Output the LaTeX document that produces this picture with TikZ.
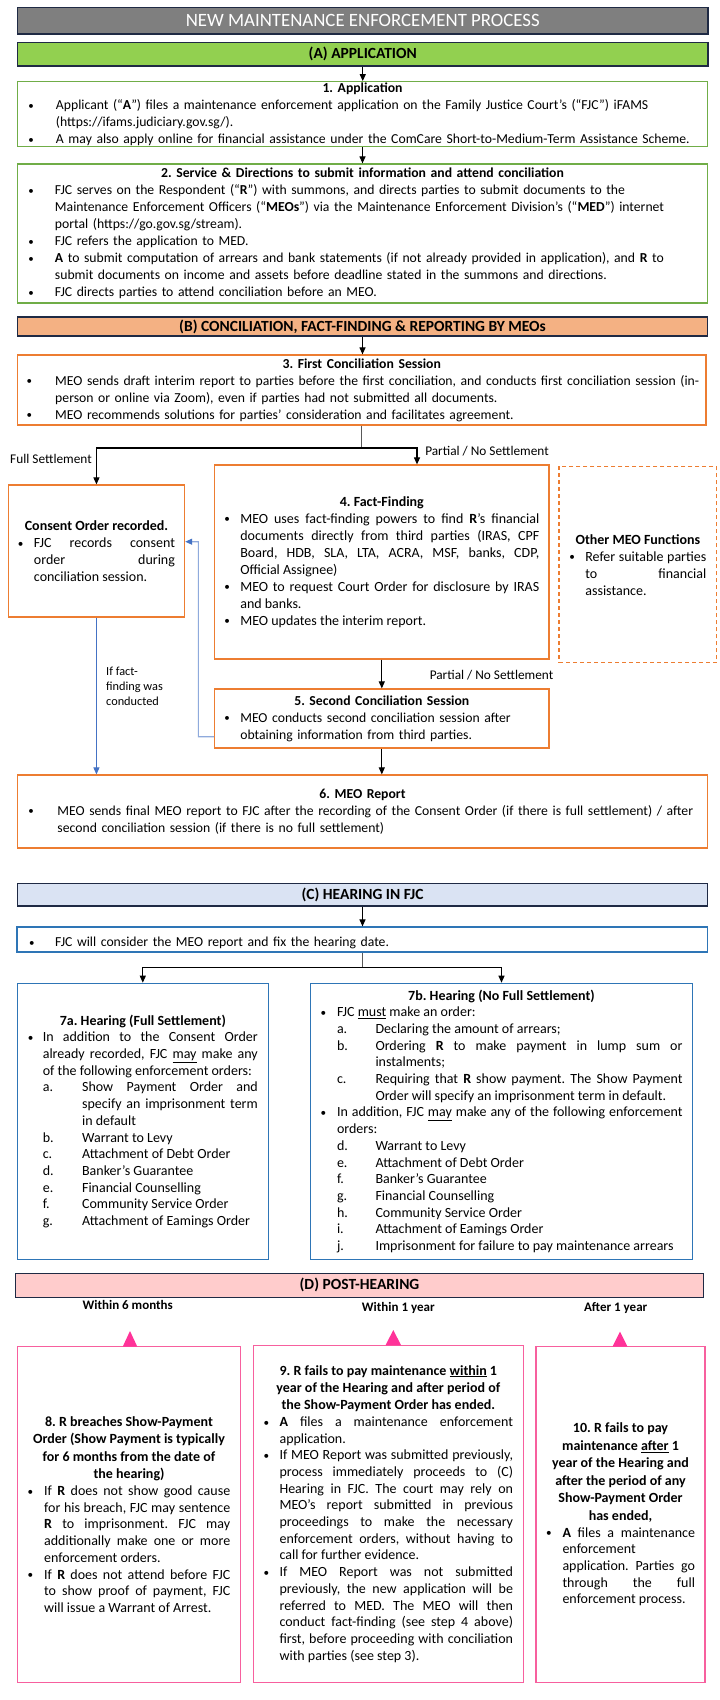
\documentclass[tikz,border=0pt]{standalone}
\usepackage{fontspec}
\setmainfont{Carlito}
\usepackage{graphicx}
\usetikzlibrary{arrows.meta,calc}
\definecolor{navy}{HTML}{1F2A44}
\definecolor{titlegray}{HTML}{7F7F7F}
\definecolor{agreen}{HTML}{92D050}
\definecolor{boxgreen}{HTML}{70AD47}
\definecolor{bpeach}{HTML}{F4B183}
\definecolor{boxorange}{HTML}{ED7D31}
\definecolor{clight}{HTML}{DAE3F3}
\definecolor{boxblue}{HTML}{2E75B6}
\definecolor{dpink}{HTML}{FFCCCC}
\definecolor{boxpink}{HTML}{F7609E}
\definecolor{tripink}{HTML}{FF3399}
\definecolor{linkblue}{HTML}{4472C4}
\definecolor{linkblue2}{HTML}{8FAADC}
\definecolor{stemgray}{HTML}{595959}
\frenchspacing
\newcommand{\bul}{\raisebox{0.3bp}{\scalebox{0.8}{\textbullet}}}
\newcommand{\oneline}[1]{\makebox[0pt][l]{#1}}
\newenvironment{blist}[1]{\begin{list}{\bul}{\setlength{\leftmargin}{#1}\setlength{\labelwidth}{#1}\setlength{\labelsep}{0pt}\setlength{\itemsep}{0pt}\setlength{\parsep}{0pt}\setlength{\topsep}{0pt}\setlength{\partopsep}{0pt}\setlength{\itemindent}{0pt}\setlength{\listparindent}{0pt}\setlength{\rightmargin}{0pt}\def\makelabel##1{##1\hfil}}}{\end{list}}
\begin{document}
\begin{tikzpicture}[x=1bp,y=-1bp,
 hdr/.style={draw=navy, line width=1.3bp, inner sep=0pt, font=\fontsize{15.5bp}{18bp}\selectfont\bfseries, text=black},
 gbox/.style={draw=boxgreen, line width=1.2bp, inner sep=0pt},
 obox/.style={draw=boxorange, line width=1.2bp, inner sep=0pt},
 bbox/.style={draw=boxblue, line width=1.2bp, inner sep=0pt},
 pbox/.style={draw=boxpink, line width=1.2bp, inner sep=0pt},
 body/.style={font=\fontsize{13.7bp}{17bp}\selectfont\frenchspacing},
 bodyj/.style={font=\fontsize{14bp}{17bp}\selectfont\frenchspacing},
 bodyb/.style={font=\fontsize{14bp}{16.7bp}\selectfont\frenchspacing},
 arr/.style={draw=black, line width=1.1bp, -{Triangle[length=7bp,width=6bp]}},
 stem/.style={draw=stemgray, line width=1.1bp},
 barr/.style={draw=linkblue, line width=1.1bp, -{Triangle[length=7bp,width=6bp]}},
 barr2/.style={draw=linkblue2, line width=1.1bp, -{Triangle[length=7bp,width=6bp,color=linkblue]}},
 lbl/.style={font=\fontsize{13.3bp}{15bp}\selectfont, inner sep=0pt},
 wl/.style={font=\fontsize{13bp}{15bp}\selectfont\bfseries, inner sep=0pt}]
\useasboundingbox (0,0) rectangle (720,1700);
\fill[white] (0,0) rectangle (720,1700);

% ---------- Title and (A)
\node[hdr, fill=titlegray, minimum width=690.5bp, minimum height=26.7bp, font=\fontsize{18.8bp}{21bp}\selectfont, text=white] (title) at (362.75,20.65) {NEW MAINTENANCE ENFORCEMENT PROCESS};
\node[hdr, fill=agreen, minimum width=690.5bp, minimum height=23.3bp] (A) at (362.75,54.35) {(A) APPLICATION};

\node[gbox, body, minimum width=690bp, minimum height=65bp, text width=668bp, align=left] (b1) at (362.5,114.2) {\parskip=0pt
{\centering\bfseries 1. Application\par}
\begin{blist}{27.5bp}
\item \oneline{Applicant (“\textbf{A}”) files a maintenance enforcement application on the Family Justice Court’s (“FJC”) iFAMS}\\\oneline{(https://ifams.judiciary.gov.sg/).}
\item \oneline{A may also apply online for financial assistance under the ComCare Short-to-Medium-Term Assistance Scheme.}
\end{blist}};

\node[gbox, body, minimum width=690bp, minimum height=139bp, text width=668bp, align=left] (b2) at (362.5,233.5) {\parskip=0pt
{\centering\bfseries 2. Service \& Directions to submit information and attend conciliation\par}
\begin{blist}{26.5bp}
\item \oneline{FJC serves on the Respondent (“\textbf{R}”) with summons, and directs parties to submit documents to the}\\\oneline{Maintenance Enforcement Officers (“\textbf{MEOs}”) via the Maintenance Enforcement Division’s (“\textbf{MED}”) internet}\\\oneline{portal (https://go.gov.sg/stream).}
\item \oneline{FJC refers the application to MED.}
\item \oneline{\textbf{A} to submit computation of arrears and bank statements (if not already provided in application), and \textbf{R} to}\\\oneline{submit documents on income and assets before deadline stated in the summons and directions.}
\item \oneline{FJC directs parties to attend conciliation before an MEO.}
\end{blist}};

% ---------- (B)
\node[hdr, fill=bpeach, minimum width=690bp, minimum height=19bp] (B) at (362.5,326.5) {(B) CONCILIATION, FACT-FINDING \& REPORTING BY MEOs};

\node[obox, body, minimum width=688.5bp, minimum height=70bp, text width=670bp, align=left] (b3) at (361.75,390) {\parskip=0pt
{\centering\bfseries 3. First Conciliation Session\par}
\begin{blist}{28.5bp}
\item \oneline{MEO sends draft interim report to parties before the first conciliation, and conducts first conciliation session (in-}\\\oneline{person or online via Zoom), even if parties had not submitted all documents.}
\item \oneline{MEO recommends solutions for parties’ consideration and facilitates agreement.}
\end{blist}};

\node[obox, bodyj, minimum width=176.3bp, minimum height=132bp, text width=157bp, align=justify] (consent) at (96.45,551) {\parskip=0pt
{\centering\bfseries Consent Order recorded.\par}
\begin{blist}{16bp}
\item FJC records consent \linebreak order during \linebreak conciliation session.
\end{blist}};

\node[obox, bodyj, minimum width=334.4bp, minimum height=194bp, text width=315bp, align=justify] (fact) at (381.8,562) {\parskip=0pt
{\centering\bfseries 4. Fact-Finding\par}
\begin{blist}{16bp}
\item MEO uses fact-finding powers to find \textbf{R}’s financial \linebreak documents directly from third parties (IRAS, CPF \linebreak Board, HDB, SLA, LTA, ACRA, MSF, banks, CDP, \linebreak Official Assignee)
\item MEO to request Court Order for disclosure by IRAS \linebreak and banks.
\item MEO updates the interim report.
\end{blist}};

\node[obox, dashed, dash pattern=on 4bp off 3bp, bodyj, minimum width=157.7bp, minimum height=196bp, text width=137bp, align=justify] (other) at (637.85,564.7) {\parskip=0pt
{\centering\bfseries Other MEO Functions\par}
\begin{blist}{16bp}
\item Refer suitable parties \linebreak to financial \linebreak assistance.
\end{blist}};

\node[obox, body, minimum width=334.4bp, minimum height=59bp, text width=315bp, align=left] (b5) at (381.8,718.5) {\parskip=0pt
{\centering\bfseries 5. Second Conciliation Session\par}
\begin{blist}{16bp}
\item \oneline{MEO conducts second conciliation session after}\\\oneline{obtaining information from third parties.}
\end{blist}};

\node[obox, body, minimum width=690bp, minimum height=73bp, text width=668bp, align=left] (b6) at (362.5,811.5) {\parskip=0pt
{\centering\bfseries 6. MEO Report\par}
\begin{blist}{29bp}
\item \oneline{MEO sends final MEO report to FJC after the recording of the Consent Order (if there is full settlement) / after}\\\oneline{second conciliation session (if there is no full settlement)}
\end{blist}};

% connectors (A)-(B)
\draw[arr] (A.south) -- (A.south |- b1.north);
\draw[arr] (b1.south) -- (b1.south |- b2.north);
\draw[arr] (B.south) -- (B.south |- b3.north);

\coordinate (j3) at (361.75,448);
\coordinate (j3r) at (417,448);
\draw[stem] (b3.south) -- (j3);
\draw[arr] (j3) -| (consent.north);
\draw[arr] (j3) -- (j3r) -- (j3r |- fact.north);
\node[lbl] (lfull) at (51,459) {Full Settlement};
\node[lbl] (lpart1) at (487,451) {Partial / No Settlement};

\draw[arr] (fact.south) -- (b5.north);
\node[lbl] (lpart2) at (491.5,675) {Partial / No Settlement};
\draw[arr] (b5.south) -- (b5.south |- b6.north);

\draw[barr] (consent.south) -- (consent.south |- b6.north);
\node[anchor=north west, inner sep=0pt, font=\fontsize{12.3bp}{14.7bp}\selectfont, align=left] (lff) at (106,667) {If fact-\\finding was\\conducted};

\coordinate (bk) at (198.4,736.7);
\coordinate (bk2) at (198.4,541.7);
\draw[barr2] ([yshift=-18.2bp]b5.west) -- (bk) -- (bk2) -- (bk2 -| consent.east);

% ---------- (C)
\node[hdr, fill=clight, minimum width=690bp, minimum height=22.7bp] (C) at (362.5,894.65) {(C) HEARING IN FJC};

\node[bbox, body, minimum width=690.5bp, minimum height=25bp, text width=666bp, align=left] (fjc) at (362.25,939.5) {\parskip=0pt
\begin{blist}{26bp}
\item \oneline{FJC will consider the MEO report and fix the hearing date.}
\end{blist}};
\draw[arr] (C.south) -- (C.south |- fjc.north);

\node[bbox, bodyb, minimum width=251bp, minimum height=276bp, text width=230bp, align=justify] (b7a) at (142.8,1121.3) {\parskip=0pt
{\centering\bfseries 7a. Hearing (Full Settlement)\par}
\begin{blist}{15bp}
\item In addition to the Consent Order \linebreak already recorded, FJC \underline{may} make any \linebreak of the following enforcement orders:
\begin{blist}{39.3bp}
\item[a.] Show Payment Order and \linebreak specify an imprisonment term \linebreak in default
\item[b.] Warrant to Levy
\item[c.] Attachment of Debt Order
\item[d.] Banker’s Guarantee
\item[e.] Financial Counselling
\item[f.] Community Service Order
\item[g.] Attachment of Eamings Order
\end{blist}
\end{blist}};

\node[bbox, bodyb, minimum width=381.6bp, minimum height=276bp, text width=362bp, align=justify] (b7b) at (501.5,1121.3) {\parskip=0pt
{\centering\bfseries 7b. Hearing (No Full Settlement)\par}
\begin{blist}{16.5bp}
\item FJC \underline{must} make an order:
\begin{blist}{38.5bp}
\item[a.] Declaring the amount of arrears;
\item[b.] Ordering \textbf{R} to make payment in lump sum or \linebreak instalments;
\item[c.] Requiring that \textbf{R} show payment. The Show Payment \linebreak Order will specify an imprisonment term in default.
\end{blist}
\item In addition, FJC \underline{may} make any of the following enforcement \linebreak orders:
\begin{blist}{38.5bp}
\item[d.] Warrant to Levy
\item[e.] Attachment of Debt Order
\item[f.] Banker’s Guarantee
\item[g.] Financial Counselling
\item[h.] Community Service Order
\item[i.] Attachment of Eamings Order
\item[j.] Imprisonment for failure to pay maintenance arrears
\end{blist}
\end{blist}};

\coordinate (j7) at (361,967.7);
\draw[stem] (fjc.south) -- (fjc.south |- j7);
\draw[arr] (fjc.south |- j7) -| (b7a.north);
\draw[arr] (fjc.south |- j7) -| (b7b.north);

% ---------- (D)
\node[hdr, fill=dpink, minimum width=687.6bp, minimum height=24bp] (D) at (359.5,1285.3) {(D) POST-HEARING};

\node[wl] (w6) at (127.7,1305) {Within 6 months};
\node[wl] (w1) at (398.3,1308.3) {Within 1 year};
\node[wl] (a1) at (615.7,1308.3) {After 1 year};

\node[pbox, bodyb, minimum width=223.4bp, minimum height=335.6bp, text width=202.5bp, align=justify] (b8) at (129,1514.5) {\parskip=0pt
{\centering\bfseries\baselineskip=17.5bp 8. R breaches Show-Payment\\Order (Show Payment is typically\\for 6 months from the date of\\the hearing)\par}
\begin{blist}{16.4bp}
\item If \textbf{R} does not show good cause \linebreak for his breach, FJC may sentence \linebreak \textbf{R} to imprisonment. FJC may \linebreak additionally make one or more \linebreak enforcement orders.
\item If \textbf{R} does not attend before FJC \linebreak to show proof of payment, FJC \linebreak will issue a Warrant of Arrest.
\end{blist}};

\node[pbox, bodyb, minimum width=270bp, minimum height=337bp, text width=249.5bp, align=justify] (b9) at (388.3,1513.8) {\parskip=0pt
{\centering\bfseries\baselineskip=17.3bp 9. R fails to pay maintenance \underline{within} 1\\year of the Hearing and after period of\\the Show-Payment Order has ended.\par}
\begin{blist}{16bp}
\item \textbf{A} files a maintenance enforcement \linebreak application.
\item If MEO Report was submitted previously, \linebreak process immediately proceeds to (C) \linebreak Hearing in FJC. The court may rely on \linebreak MEO’s report submitted in previous \linebreak proceedings to make the necessary \linebreak enforcement orders, without having to \linebreak call for further evidence.
\item If MEO Report was not submitted \linebreak previously, the new application will be \linebreak referred to MED. The MEO will then \linebreak conduct fact-finding (see step 4 above) \linebreak first, before proceeding with conciliation \linebreak with parties (see step 3).
\end{blist}};

\node[pbox, bodyb, minimum width=169bp, minimum height=335.6bp, text width=149bp, align=justify] (b10) at (620.5,1514.5) {\parskip=0pt
{\centering\bfseries\baselineskip=17.5bp 10. R fails to pay\\maintenance \underline{after} 1\\year of the Hearing and\\after the period of any\\Show-Payment Order\\has ended,\par}
\begin{blist}{16.5bp}
\item \textbf{A} files a maintenance \linebreak enforcement\\application. Parties go \linebreak through the full \linebreak enforcement process.
\end{blist}};

\fill[tripink] (122.7,1346.7) -- (130,1331) -- (137.3,1346.7) -- cycle;
\fill[tripink] (385.5,1345.3) -- (393.3,1330) -- (401.1,1345.3) -- cycle;
\fill[tripink] (612.5,1346.7) -- (620,1331.7) -- (627.5,1346.7) -- cycle;
\end{tikzpicture}
\end{document}
